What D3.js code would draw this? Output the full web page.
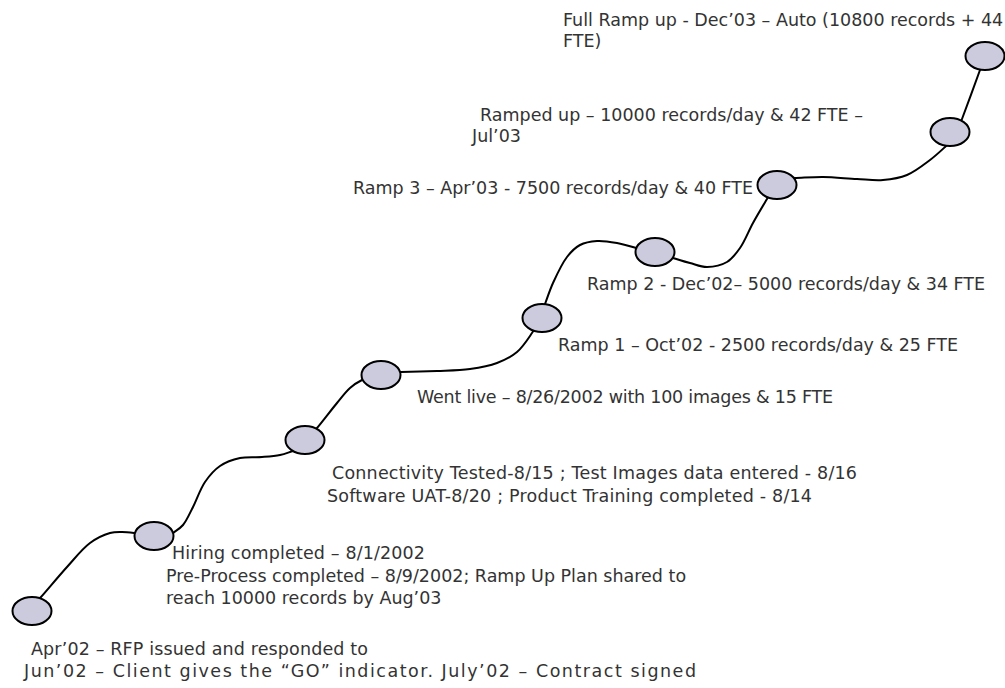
<!DOCTYPE html>
<html>
<head>
<meta charset="utf-8">
<script src="https://cdn.jsdelivr.net/npm/d3@7"></script>
<style>
  html, body { margin: 0; padding: 0; background: #ffffff; }
  svg { display: block; }
  .lbl { font-family: "DejaVu Sans", sans-serif; font-size: 17.5px; fill: #333333; }
</style>
</head>
<body>
<svg id="chart" width="1005" height="688"></svg>
<script>
// ---------------- DATA ----------------
// Milestones along the ramp-up path (progress units: x = time, y = ramp level)
const milestoneNames = ["Start", "Hiring", "Connectivity", "Went live", "Ramp 1", "Ramp 2", "Ramp 3", "Ramped up", "Full Ramp up"];
const milestoneX = [3.2, 15.4, 30.5, 38.1, 54.2, 65.5, 77.7, 95.0, 98.5];
const milestoneY = [8.9, 16.4, 26.0, 32.5, 38.2, 44.8, 51.5, 56.8, 64.4];

// Connector curves between consecutive milestones (x, y in the same units)
const connector1 = [[3.8,10.0],[4.1,10.3],[6.7,13.3],[9.0,15.7],[11.0,16.7],[12.2,16.8],[13.5,16.7],[14.2,16.6]];
const connector2 = [[16.8,16.3],[17.3,16.7],[18.3,17.5],[19.3,19.3],[20.5,21.8],[22.0,23.4],[24.0,24.2],[26.2,24.3],[28.0,24.5],[29.3,24.9],[30.0,25.1]];
const connector3 = [[31.3,26.8],[31.7,27.2],[33.7,29.7],[35.0,31.2],[36.2,32.0],[36.8,32.2]];
const connector4 = [[39.5,32.8],[40.1,32.8],[43.7,32.9],[47.0,33.1],[49.7,33.7],[51.7,34.8],[53.2,36.7],[53.5,37.2]];
const connector5 = [[54.3,39.1],[54.5,39.6],[55.3,41.7],[56.7,44.3],[58.0,45.5],[59.7,45.9],[61.7,45.7],[63.6,45.2],[64.2,45.0]];
const connector6 = [[66.8,44.4],[67.3,44.2],[69.0,43.7],[70.7,43.3],[72.7,43.8],[74.0,45.2],[75.3,47.7],[76.7,50.1],[77.0,50.6]];
const connector7 = [[79.0,52.2],[79.6,52.2],[82.3,52.3],[85.7,52.1],[88.3,52.0],[90.7,52.5],[93.0,54.0],[94.5,55.3],[94.9,55.7]];
const connector8 = [[96.0,57.6],[96.2,58.1],[98.0,63.0],[98.2,63.6]];

// Annotation texts (one entry per line)
const labelTexts = [
  "Full Ramp up - Dec\u201903 \u2013 Auto (10800 records + 44",
  "FTE)",
  "Ramped up \u2013 10000 records/day & 42 FTE \u2013",
  "Jul\u201903",
  "Ramp 3 \u2013 Apr\u201903 - 7500 records/day & 40 FTE",
  "Ramp 2 - Dec\u201902\u2013 5000 records/day & 34 FTE",
  "Ramp 1 \u2013 Oct\u201902 - 2500 records/day & 25 FTE",
  "Went live \u2013 8/26/2002 with 100 images & 15 FTE",
  "Connectivity Tested-8/15 ; Test Images data entered - 8/16",
  "Software UAT-8/20 ; Product Training completed - 8/14",
  "Hiring completed \u2013 8/1/2002",
  "Pre-Process completed \u2013 8/9/2002; Ramp Up Plan shared to",
  "reach 10000 records by Aug\u201903",
  "Apr\u201902 \u2013 RFP issued and responded to",
  "Jun\u201902 \u2013 Client gives the \u201cGO\u201d indicator. July\u201902 \u2013 Contract signed"
];

// ---------------- LAYOUT ----------------
const svg = d3.select("#chart");
const x = d3.scaleLinear().domain([0, 100]).range([0, 1000]);
const y = d3.scaleLinear().domain([0, 70]).range([700, 0]);

// label layout (pixels: left x, baseline y, optional fitted width)
const labelLayout = [
  [563, 26, null], [563, 47, null],
  [480, 121, null], [472, 142, null],
  [353, 194, null],
  [587, 290, null],
  [558, 351, null],
  [417, 403, 416],
  [332, 479, 525], [327, 502, 485],
  [172, 559, 253], [166, 582, null], [166, 604, null],
  [31, 655, 337], [24, 677, 672]
];

const line = d3.line()
  .x(d => x(d[0]))
  .y(d => y(d[1]))
  .curve(d3.curveCatmullRom.alpha(0.5));

const connectors = [connector1, connector2, connector3, connector4, connector5, connector6, connector7, connector8];

svg.append("g")
  .selectAll("path")
  .data(connectors)
  .join("path")
  .attr("d", line)
  .attr("fill", "none")
  .attr("stroke", "#000")
  .attr("stroke-width", 2);

const milestones = milestoneNames.map((n, i) => ({ name: n, x: milestoneX[i], y: milestoneY[i] }));

svg.append("g")
  .selectAll("ellipse")
  .data(milestones)
  .join("ellipse")
  .attr("cx", d => x(d.x))
  .attr("cy", d => y(d.y))
  .attr("rx", 19.5)
  .attr("ry", 14)
  .attr("fill", "#cbcbdd")
  .attr("stroke", "#000")
  .attr("stroke-width", 2);

const texts = svg.append("g")
  .selectAll("text")
  .data(labelTexts)
  .join("text")
  .attr("class", "lbl")
  .attr("x", (d, i) => labelLayout[i][0])
  .attr("y", (d, i) => labelLayout[i][1])
  .style("white-space", "pre")
  .text(d => d);

texts.filter((d, i) => labelLayout[i][2] != null)
  .attr("textLength", function(d) { return labelLayout[labelTexts.indexOf(d)][2]; })
  .attr("lengthAdjust", "spacing");
</script>
</body>
</html>
